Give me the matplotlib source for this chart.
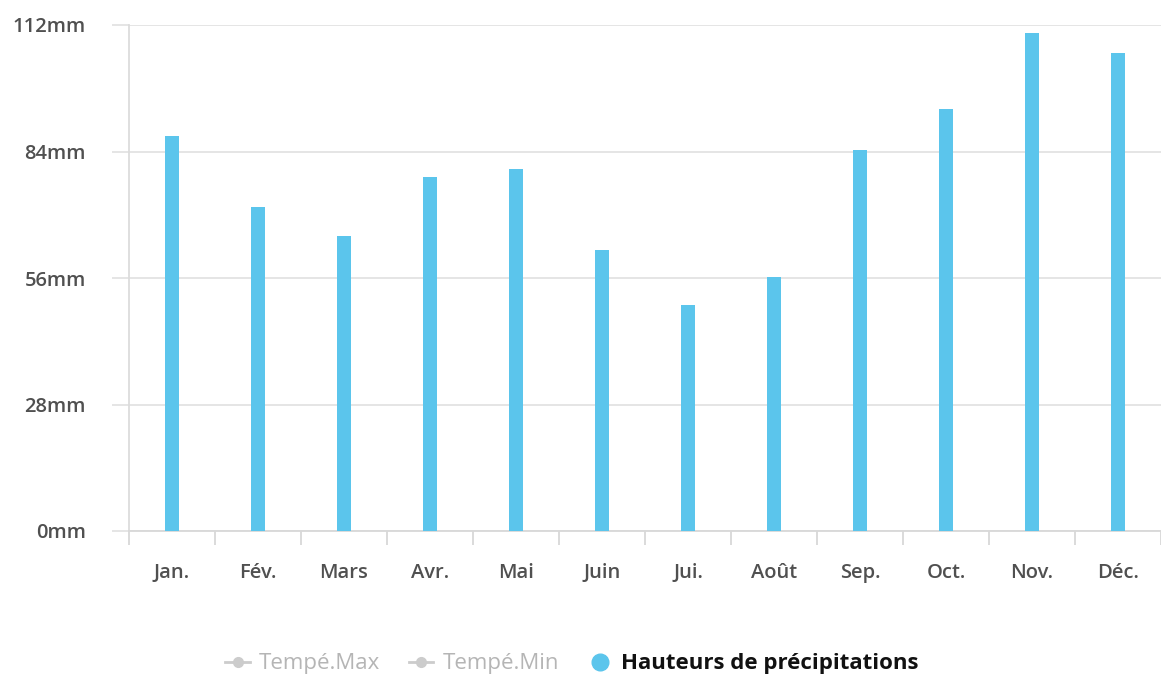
import matplotlib
matplotlib.use("Agg")
import matplotlib.pyplot as plt
from matplotlib.lines import Line2D
import numpy as np

months = ["Jan.", "Fév.", "Mars", "Avr.", "Mai", "Juin", "Jui.", "Août", "Sep.", "Oct.", "Nov.", "Déc."]
precip_mm = [87.4, 71.7, 65.3, 78.4, 80.1, 62.2, 50.0, 56.2, 84.3, 93.4, 110.2, 105.8]
y_ticks = [0, 28, 56, 84, 112]
y_labels = [f"{v}mm" for v in y_ticks]
legend_labels = ["Tempé.Max", "Tempé.Min", "Hauteurs de précipitations"]

W, H = 1161, 677
bar_color = "#5bc5ec"
grid_color = "#e3e3e3"
label_color = "#505050"

plt.rcParams["font.family"] = ["Open Sans", "DejaVu Sans"]

fig = plt.figure(figsize=(W / 100, H / 100), dpi=100)
band = 86.6
ax = fig.add_axes([129 / W, (H - 531) / H, (W - 129) / W, (531 - 25) / H])

x = np.arange(len(months))
ax.bar(x, precip_mm, width=14 / band, color=bar_color, zorder=3)

ax.set_xlim(-0.5, (W - 129) / band - 0.5)
ax.set_ylim(0, 112)

# y axis: gridlines reach a little left of the plot
ax.set_yticks(y_ticks)
ax.set_yticklabels(y_labels)
ax.yaxis.grid(True, color=grid_color, linewidth=1.3, zorder=0)
ax.tick_params(axis="y", length=12, color=grid_color, width=1.3, pad=19,
               labelsize=14.5, labelcolor=label_color)
for t in ax.get_yticklabels():
    t.set_fontweight("semibold")

# x axis: month labels, divider ticks between bands
ax.set_xticks(x)
ax.set_xticklabels(months)
ax.set_xticks(np.arange(len(months) + 1) - 0.5, minor=True)
ax.tick_params(axis="x", which="major", length=0, pad=23, labelsize=14.5, labelcolor=label_color)
ax.tick_params(axis="x", which="minor", length=10, color="#d8d8d8", width=1.3)
for t in ax.get_xticklabels():
    t.set_fontweight("semibold")

for side in ["top", "right"]:
    ax.spines[side].set_visible(False)
ax.spines["left"].set_color("#dcdcdc")
ax.spines["left"].set_linewidth(1.3)
ax.spines["bottom"].set_color("#d8d8d8")
ax.spines["bottom"].set_linewidth(1.3)

handles = [
    Line2D([], [], color="#cccccc", marker="o", markersize=7, linewidth=2),
    Line2D([], [], color="#cccccc", marker="o", markersize=7, linewidth=2),
    Line2D([], [], color=bar_color, marker="o", markersize=12, linewidth=0),
]
leg = fig.legend(handles, legend_labels, loc="center", bbox_to_anchor=(572 / W, 1 - 664 / H),
                 ncol=3, frameon=False, fontsize=16, handlelength=1.1, handletextpad=0.4,
                 columnspacing=1.3)
texts = leg.get_texts()
texts[0].set_color("#b5b5b5")
texts[1].set_color("#b5b5b5")
texts[2].set_color("#111111")
texts[2].set_fontweight("bold")

fig.savefig("out.png", dpi=100)
